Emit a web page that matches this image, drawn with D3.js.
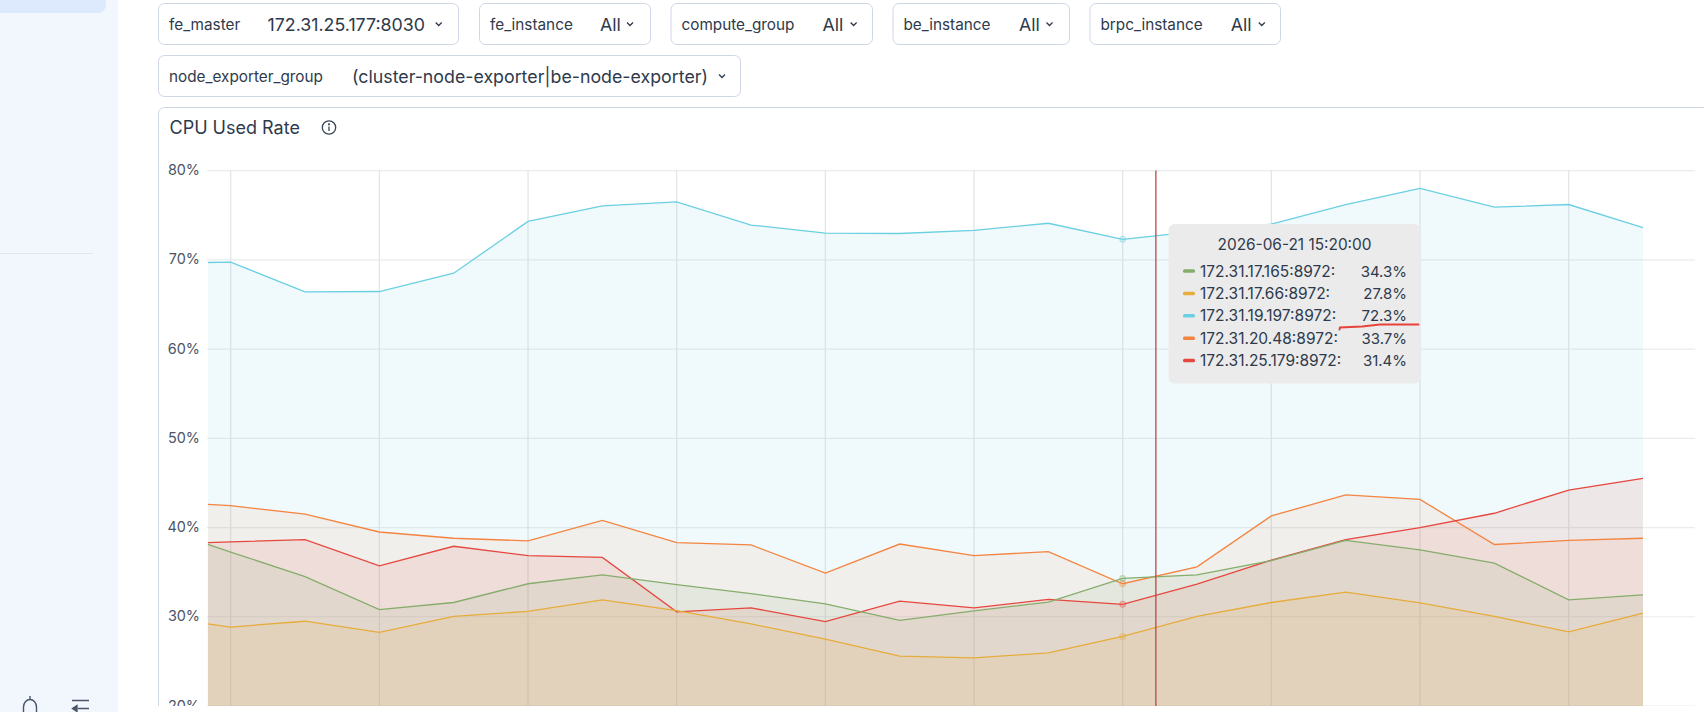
<!DOCTYPE html>
<html>
<head>
<meta charset="utf-8">
<script src="https://cdn.jsdelivr.net/npm/d3@7/dist/d3.min.js"></script>
<style>
  html, body { margin: 0; padding: 0; background: #fff; overflow: hidden; }
  svg { display: block; font-family: Inter, "Noto Sans", sans-serif; }
</style>
</head>
<body>
<div id="chart"></div>
<script>
// Sampling times of the CPU panel (the first sample is the partial window start)
const times = ["13:16:56","13:20","13:30","13:40","13:50","14:00","14:10","14:20","14:30","14:40","14:50",
               "15:00","15:10","15:20","15:30","15:40","15:50","16:00","16:10","16:20","16:30"];
const gridTimes = ["13:20","13:40","14:00","14:20","14:40","15:00","15:20","15:40","16:00","16:20"];
const yTicks = [20, 30, 40, 50, 60, 70, 80];

const seriesNames = ["172.31.17.165:8972","172.31.17.66:8972","172.31.19.197:8972","172.31.20.48:8972","172.31.25.179:8972"];
const seriesColors = ["#86AD6C","#E6AC3C","#6BCFE2","#F4843F","#E6473F"];
const areaOpacity = [0.105, 0.115, 0.1, 0.085, 0.105];

const green  = [38.1,37.25,34.5,30.8,31.6,33.7,34.7,33.6,32.6,31.45,29.6,30.65,31.65,34.3,34.7,36.3,38.55,37.5,36.0,31.9,32.45];
const yellow = [29.2,28.85,29.5,28.25,30.05,30.6,31.9,30.7,29.2,27.5,25.6,25.4,25.95,27.8,30.05,31.6,32.75,31.55,30.05,28.3,30.4];
const cyan   = [69.7,69.75,66.4,66.45,68.5,74.3,76.05,76.5,73.9,73.0,72.95,73.3,74.1,72.3,73.2,74.0,76.2,78.0,75.9,76.2,73.6];
const orange = [42.6,42.45,41.5,39.5,38.8,38.5,40.8,38.3,38.05,34.9,38.15,36.85,37.3,33.7,35.6,41.3,43.65,43.15,38.1,38.55,38.8];
const red    = [38.3,38.4,38.65,35.7,37.9,36.85,36.65,30.55,31.0,29.45,31.75,31.0,31.95,31.4,33.65,36.35,38.65,40.0,41.6,44.2,45.5];
const seriesValues = [green, yellow, cyan, orange, red];

const hoveredTime = "15:20";
const hoveredLabel = "2026-06-21 15:20:00";
const cursorTime = "15:24:28";

// Dashboard filter controls: [label, value, box left, box right, value x, chevron x, row]
const filters = [
  ["fe_master", "172.31.25.177:8030", 158.5, 458.5, 267.5, 438.7, 0],
  ["fe_instance", "All", 479.5, 650.5, 600, 630, 0],
  ["compute_group", "All", 671, 872.5, 822.5, 853.6, 0],
  ["be_instance", "All", 893, 1069.5, 1019, 1049.5, 0],
  ["brpc_instance", "All", 1090, 1280.5, 1230.7, 1261.8, 0],
  ["node_exporter_group", "(cluster-node-exporter|be-node-exporter)", 158.5, 740.5, 352, 722, 1]
];

const W = 1704, H = 712;
const plot = { left: 207.9, right: 1643, top: 170.6, bottom: 706, gridRight: 1695 };
const textColor = "#2E3A4B";

const parseTime = d3.utcParse("%Y-%m-%d %H:%M:%S");
const toDate = t => parseTime("2026-06-21 " + (t.length === 5 ? t + ":00" : t));

const x = d3.scaleUtc().domain([toDate(times[0]), toDate(times[times.length - 1])]).range([plot.left, plot.right]);
const y = d3.scaleLinear().domain([20, 80]).range([plot.bottom, plot.top]);

const svg = d3.select("#chart").append("svg").attr("width", W).attr("height", H).attr("viewBox", [0, 0, W, H]);

// Left navigation rail
svg.append("rect").attr("width", 118).attr("height", H).attr("fill", "#F2F7FE");
svg.append("path").attr("d", "M0,-10H98a8,8 0 0 1 8,8V5a8,8 0 0 1 -8,8H0Z").attr("fill", "#DDEAFD");
svg.append("line").attr("x1", 0).attr("x2", 93).attr("y1", 253.5).attr("y2", 253.5).attr("stroke", "#E3E7ED");
svg.append("path").attr("d", "M23.5,714V707a6.5,7.5 0 0 1 13,0V714M30,699.5V696")
  .attr("fill", "none").attr("stroke", "#4A5568").attr("stroke-width", 1.4);
svg.append("path").attr("d", "M72,700.5H89M78,708.5H89M77,705.5L72.5,708.5L77,711.5Z")
  .attr("fill", "#4A5568").attr("stroke", "#4A5568").attr("stroke-width", 1.4);

// Filter controls above the panel
const rowTop = [3.5, 55.5];
const boxH = 41;
const fg = svg.append("g").selectAll("g").data(filters).join("g");
fg.append("rect")
  .attr("x", d => d[2]).attr("y", d => rowTop[d[6]])
  .attr("width", d => d[3] - d[2]).attr("height", boxH).attr("rx", 6)
  .attr("fill", "#fff").attr("stroke", "#CFD6E6");
fg.append("text")
  .attr("x", d => d[2] + 10.5).attr("y", d => rowTop[d[6]] + boxH / 2 + 0.5)
  .attr("dominant-baseline", "central").attr("font-size", 15.3).attr("fill", textColor)
  .text(d => d[0]);
fg.append("text")
  .attr("x", d => d[4]).attr("y", d => rowTop[d[6]] + boxH / 2 + 0.5)
  .attr("dominant-baseline", "central").attr("font-size", 17.8).attr("fill", textColor)
  .text(d => d[1]);
fg.append("path")
  .attr("d", d => { const cx = d[5], cy = rowTop[d[6]] + boxH / 2; return `M${cx - 3},${cy - 1.5}L${cx},${cy + 1.5}L${cx + 3},${cy - 1.5}`; })
  .attr("fill", "none").attr("stroke", textColor).attr("stroke-width", 1.3);

// Panel frame, open to the right and cut off at the bottom
svg.append("defs").append("clipPath").attr("id", "panel-clip")
  .append("rect").attr("x", 150).attr("y", 100).attr("width", W).attr("height", plot.bottom - 100);
const panel = svg.append("g").attr("clip-path", "url(#panel-clip)");
panel.append("path").attr("d", `M158.5,${H}V113.5a6,6 0 0 1 6,-6H${W + 5}`)
  .attr("fill", "none").attr("stroke", "#CFD6E6");
panel.append("text").attr("x", 169.5).attr("y", 127.5).attr("dominant-baseline", "central")
  .attr("font-size", 18).attr("font-weight", 400).attr("fill", textColor).text("CPU Used Rate");
const info = panel.append("g").attr("transform", "translate(329,127.5)")
  .attr("fill", "none").attr("stroke", "#3A4556").attr("stroke-width", 1.3);
info.append("circle").attr("r", 6.7);
info.append("path").attr("d", "M0,-1V3.5");
info.append("circle").attr("cy", -3.2).attr("r", 0.5);

// Horizontal and vertical grid
panel.append("g").selectAll("line").data(yTicks).join("line")
  .attr("x1", plot.left - 1).attr("x2", plot.gridRight)
  .attr("y1", d => y(d)).attr("y2", d => y(d))
  .attr("stroke", "#E9EBEE").attr("stroke-width", 1.2);
panel.append("g").selectAll("line").data(gridTimes).join("line")
  .attr("x1", d => x(toDate(d))).attr("x2", d => x(toDate(d)))
  .attr("y1", plot.top).attr("y2", plot.bottom)
  .attr("stroke", "#E2E6EA").attr("stroke-width", 1.3);

// Value axis labels
panel.append("g").selectAll("text").data(yTicks).join("text")
  .attr("x", 200).attr("y", d => y(d) - 1).attr("text-anchor", "end")
  .attr("dominant-baseline", "central").attr("font-size", 14.4).attr("fill", "#4A5464")
  .text(d => d + "%");

// Translucent areas and their outlines
const dates = times.map(toDate);
const area = d3.area().x((d, i) => x(dates[i])).y0(y(20)).y1(d => y(d));
const line = d3.line().x((d, i) => x(dates[i])).y(d => y(d));
const hoverIndex = times.indexOf(hoveredTime);

const plotOrder = [2, 3, 4, 0, 1];
const seriesG = panel.append("g").selectAll("g").data(plotOrder).join("g");
seriesG.append("path").attr("d", k => area(seriesValues[k]))
  .attr("fill", k => seriesColors[k]).attr("fill-opacity", k => areaOpacity[k]);
const linesG = panel.append("g").selectAll("g").data(plotOrder).join("g");
linesG.append("path").attr("d", k => line(seriesValues[k]))
  .attr("fill", "none").attr("stroke", k => seriesColors[k]).attr("stroke-width", 1.3);
linesG.append("circle")
  .attr("cx", x(toDate(hoveredTime))).attr("cy", k => y(seriesValues[k][hoverIndex])).attr("r", 2.8)
  .attr("fill", k => seriesColors[k]).attr("fill-opacity", 0.15)
  .attr("stroke", k => seriesColors[k]).attr("stroke-opacity", 0.42).attr("stroke-width", 1.3);

// Crosshair at the pointer position
panel.append("line")
  .attr("x1", x(toDate(cursorTime))).attr("x2", x(toDate(cursorTime)))
  .attr("y1", plot.top).attr("y2", plot.bottom)
  .attr("stroke", "#B9474B").attr("stroke-width", 1.3);

// Hover tooltip
const tip = svg.append("g");
tip.append("rect").attr("x", 1168.5).attr("y", 224).attr("width", 252).attr("height", 159.5).attr("rx", 6).attr("fill", "#EBEBEB");
tip.append("text").attr("x", 1294.5).attr("y", 244.5).attr("text-anchor", "middle").attr("dominant-baseline", "central")
  .attr("font-size", 15.4).attr("fill", textColor).text(hoveredLabel);
const rowY = d3.scaleLinear().domain([0, 4]).range([271, 360.5]);
const rows = tip.append("g").selectAll("g").data(seriesNames).join("g");
rows.append("rect").attr("x", 1183).attr("y", (d, i) => rowY(i) - 1.75).attr("width", 12).attr("height", 3.5).attr("rx", 1.5)
  .attr("fill", (d, i) => seriesColors[i]);
rows.append("text").attr("x", 1200).attr("y", (d, i) => rowY(i)).attr("dominant-baseline", "central")
  .attr("font-size", 15.5).attr("fill", textColor).text(d => d + ":");
rows.append("text").attr("x", 1407).attr("y", (d, i) => rowY(i)).attr("text-anchor", "end").attr("dominant-baseline", "central")
  .attr("font-size", 15).attr("font-weight", 400).attr("fill", textColor)
  .text((d, i) => seriesValues[i][hoverIndex].toFixed(1) + "%");

// Hand-drawn underline beneath the highlighted value
svg.append("path").attr("d", "M1339.5,329.5L1340,327.5L1362,326.5L1380,324.5L1418.5,324.5")
  .attr("fill", "none").attr("stroke", "#E8433A").attr("stroke-width", 2).attr("stroke-linecap", "round");
</script>
</body>
</html>
